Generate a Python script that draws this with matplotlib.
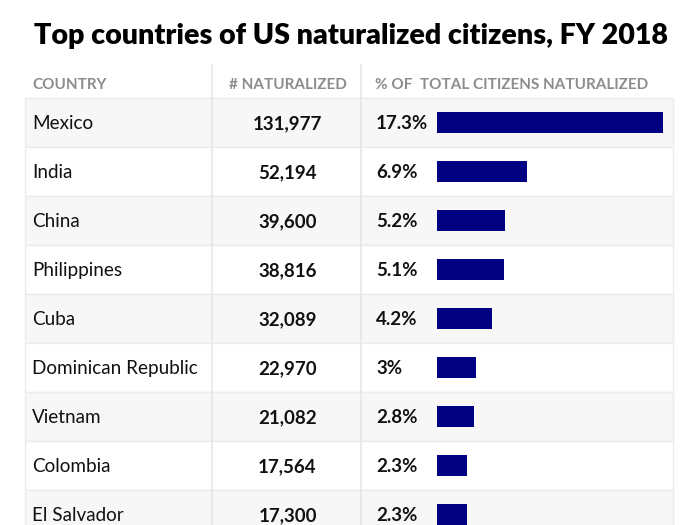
import matplotlib
matplotlib.use("Agg")
import matplotlib.pyplot as plt
from matplotlib.patches import Rectangle

countries = ["Mexico", "India", "China", "Philippines", "Cuba",
             "Dominican Republic", "Vietnam", "Colombia", "El Salvador"]
naturalized = [131977, 52194, 39600, 38816, 32089, 22970, 21082, 17564, 17300]
pct_labels = ["17.3%", "6.9%", "5.2%", "5.1%", "4.2%", "3%", "2.8%", "2.3%", "2.3%"]
pct_values = [17.3, 6.9, 5.2, 5.1, 4.2, 3.0, 2.8, 2.3, 2.3]

title = "Top countries of US naturalized citizens, FY 2018"
headers = ["COUNTRY", "# NATURALIZED", "% OF  TOTAL CITIZENS NATURALIZED"]

W, H = 700, 525
plt.rcParams["font.family"] = ["Lato", "DejaVu Sans"]

fig = plt.figure(figsize=(7, 5.25), dpi=100)
ax = fig.add_axes([0, 0, 1, 1])
ax.set_xlim(0, W)
ax.set_ylim(H, 0)
ax.axis("off")

# table geometry (pixels)
left, right = 25, 673
col1, col2 = 212, 361
head_top, row_top, row_h = 65, 98, 49
bar_left, bar_max = 437, 226  # bar_max = px for the largest value

ax.text(W / 2 + 1, 36, title, ha="center", va="center",
        fontsize=20.6, fontweight="heavy", color="black")

for i in range(len(countries)):
    y0 = row_top + i * row_h
    fc = "#f7f7f7" if i % 2 == 0 else "white"
    ax.add_patch(Rectangle((left, y0), right - left, row_h,
                           facecolor=fc, edgecolor="#ececec", lw=1, zorder=0))

bottom = row_top + len(countries) * row_h
for x in (col1, col2):
    ax.plot([x, x], [head_top, bottom], color="#e6e6e6", lw=1.2, zorder=1)

hy = 85
hstyle = dict(va="center", fontsize=11, fontweight="bold", color="#8c8c8c")
ax.text(32, hy, headers[0], ha="left", **hstyle)
ax.text((col1 + col2) / 2 + 1, hy, headers[1], ha="center", **hstyle)
ax.text(375, hy, headers[2], ha="left", **hstyle)

centers = [row_top + (i + 0.5) * row_h for i in range(len(countries))]
scale = bar_max / max(pct_values)
ax.barh(centers, [v * scale for v in pct_values], left=bar_left,
        height=21, color="#000080", zorder=2)

for c, name, n, p in zip(centers, countries, naturalized, pct_labels):
    ax.text(32, c + 1, name, ha="left", va="center", fontsize=13.6, color="#111111")
    ax.text((col1 + col2) / 2 + 1, c + 1, f"{n:,}", ha="center", va="center",
            fontsize=13.5, fontweight="bold", color="#111111")
    ax.text(376, c + 1, p, ha="left", va="center", fontsize=13.5,
            fontweight="bold", color="#111111")

fig.savefig("out.png", dpi=100, facecolor="white")
